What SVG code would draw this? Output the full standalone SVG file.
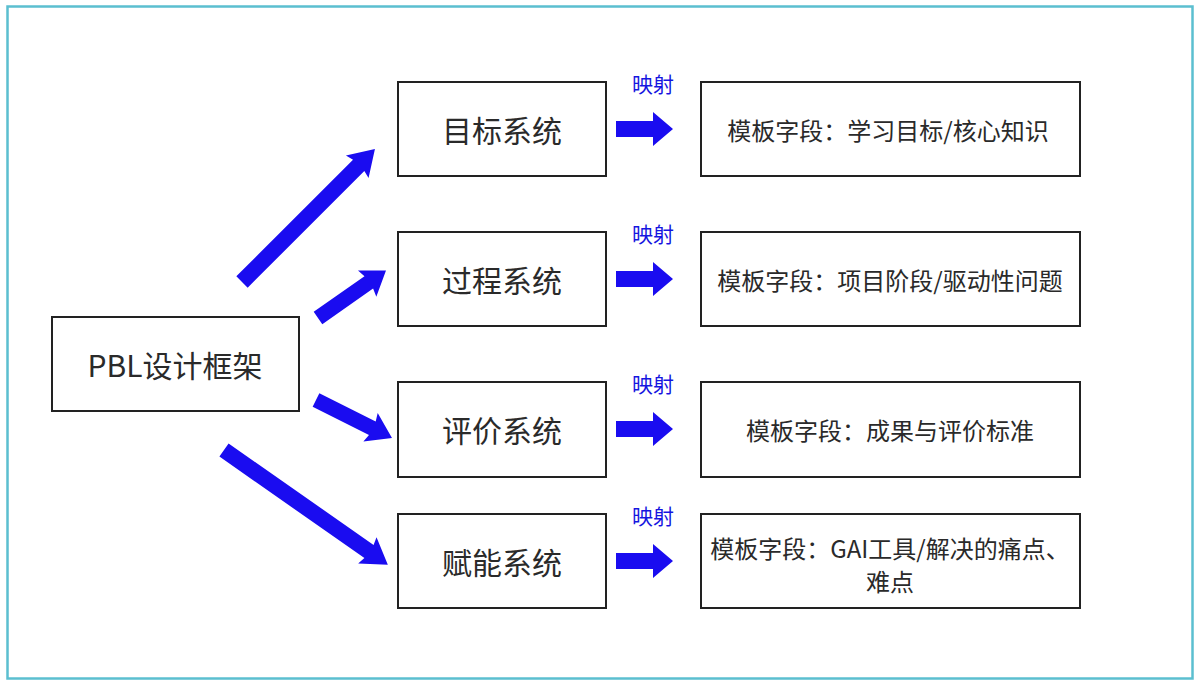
<svg xmlns="http://www.w3.org/2000/svg" width="1198" height="682" viewBox="0 0 1198 682">
<style>
.box{fill:#fff;stroke:#222;stroke-width:2}
.t{font-family:"Noto Sans CJK SC","Noto Sans",sans-serif;fill:#2a2a2a;text-anchor:middle;dominant-baseline:central}
.big{font-size:30px}
.mid{font-size:24px}
.lbl{font-family:"Noto Sans CJK SC","Noto Sans",sans-serif;fill:#1515e0;font-size:21px;text-anchor:middle}
.arr{fill:#1a0cf0}
</style>
<defs>
<path id="ma" d="M0,-8 L37,-8 L37,-17 L57,0 L37,17 L37,8 L0,8 Z"/>
</defs>
<rect x="0" y="0" width="1198" height="682" fill="#fff"/>
<rect x="7.5" y="6.5" width="1185" height="672" fill="none" stroke="#5bbfd0" stroke-width="2.5"/>
<g id="connectors">
<path class="arr" transform="translate(242,282) rotate(-45)" d="M0,-8 L165,-8 L163,-16 L188,0 L163,16 L165,8 L0,8 Z"/>
<path class="arr" transform="translate(318,318) rotate(-35)" d="M0,-7.5 L62,-7.5 L60,-16 L83,0 L60,16 L62,7.5 L0,7.5 Z"/>
<path class="arr" transform="translate(316,400) rotate(26.6)" d="M0,-7.5 L63,-7.5 L61,-16 L85,0 L61,16 L63,7.5 L0,7.5 Z"/>
<path class="arr" transform="translate(224,450) rotate(35)" d="M0,-8 L177,-8 L175,-16 L200,0 L175,16 L177,8 L0,8 Z"/>
<use href="#ma" class="arr" x="616" y="129"/>
<use href="#ma" class="arr" x="616" y="279"/>
<use href="#ma" class="arr" x="616" y="429"/>
<use href="#ma" class="arr" x="616" y="561"/>
<text class="lbl" x="653" y="92">映射</text>
<text class="lbl" x="653" y="242">映射</text>
<text class="lbl" x="653" y="392">映射</text>
<text class="lbl" x="653" y="524">映射</text>
</g>
<g id="pbl"><rect class="box" x="52" y="317" width="247" height="94"/><text class="t big" x="175" y="364">PBL设计框架</text></g>
<g id="goal"><rect class="box" x="398" y="82" width="208" height="94"/><text class="t big" x="502" y="129">目标系统</text></g>
<g id="process"><rect class="box" x="398" y="232" width="208" height="94"/><text class="t big" x="502" y="279">过程系统</text></g>
<g id="eval"><rect class="box" x="398" y="382" width="208" height="95"/><text class="t big" x="502" y="429">评价系统</text></g>
<g id="enable"><rect class="box" x="398" y="514" width="208" height="94"/><text class="t big" x="502" y="561">赋能系统</text></g>
<g id="f1"><rect class="box" x="701" y="82" width="379" height="94"/><text class="t mid" x="888" y="129">模板字段：学习目标/核心知识</text></g>
<g id="f2"><rect class="box" x="701" y="232" width="379" height="94"/><text class="t mid" x="890" y="279">模板字段：项目阶段/驱动性问题</text></g>
<g id="f3"><rect class="box" x="701" y="382" width="379" height="95"/><text class="t mid" x="890" y="429">模板字段：成果与评价标准</text></g>
<g id="f4"><rect class="box" x="701" y="514" width="379" height="94"/><text class="t mid" x="890" y="547">模板字段：GAI工具/解决的痛点、</text><text class="t mid" x="890" y="580">难点</text></g>
</svg>
